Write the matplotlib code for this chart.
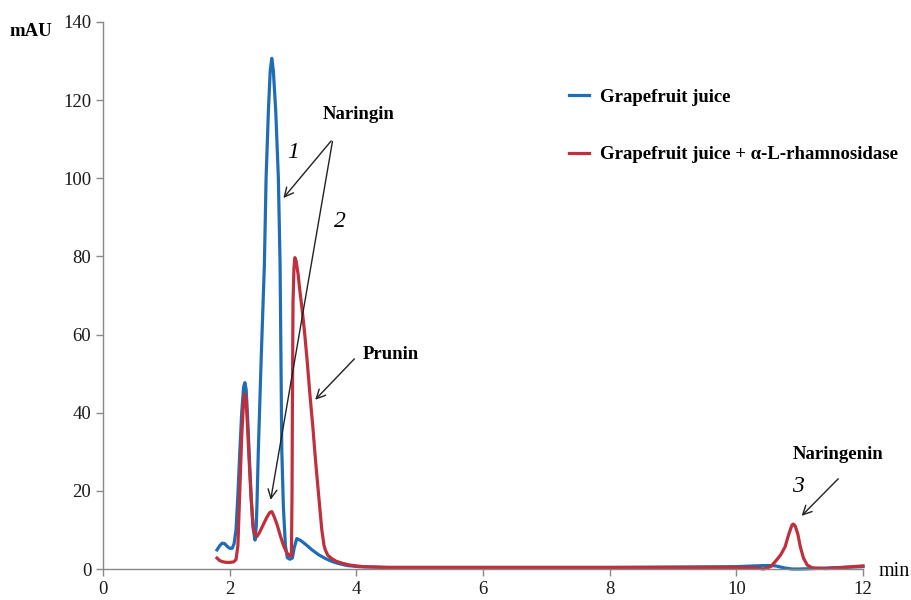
import matplotlib.pyplot as plt

plt.rcParams['font.family'] = ['Liberation Serif', 'DejaVu Serif']

# chromatogram: time (min), signal (mAU)
blue_t = [1.80, 1.84, 1.88, 1.92, 1.96, 2.00, 2.04, 2.07, 2.10, 2.13, 2.16, 2.19,
          2.22, 2.24, 2.26, 2.28, 2.31, 2.34, 2.37, 2.40, 2.42, 2.43, 2.453, 2.50,
          2.548, 2.575, 2.611, 2.64, 2.665, 2.69, 2.728, 2.769, 2.796, 2.823, 2.848,
          2.88, 2.91, 2.95, 2.99, 3.02, 3.06, 3.12, 3.20, 3.30, 3.40, 3.51, 3.62,
          3.72, 3.85, 4.03, 4.5, 5.0, 6.0, 7.0, 8.0, 9.0, 10.0, 10.3, 10.5, 10.62,
          10.75, 10.88, 11.0, 11.2, 11.5, 12.0]
blue_y = [4.9, 5.9, 6.6, 6.5, 5.8, 5.3, 5.3, 6.5, 10, 19, 30, 40,
          46.5, 47.7, 46, 40, 29, 18, 10.5, 7.4, 11, 16, 30.5, 55,
          77.8, 100, 117, 127.5, 130.7, 127.5, 117, 100, 78, 30.5, 16,
          6, 2.9, 2.5, 2.8, 5.5, 7.8, 7.3, 6.3, 4.9, 3.7, 2.7, 1.9,
          1.4, 0.9, 0.6, 0.4, 0.4, 0.4, 0.4, 0.4, 0.5, 0.6, 0.8, 0.9, 0.8,
          0.3, 0.0, 0.0, 0.1, 0.3, 0.6]

red_t = [1.80, 1.84, 1.88, 1.94, 2.00, 2.06, 2.10, 2.13, 2.16, 2.19, 2.22, 2.24,
         2.26, 2.28, 2.31, 2.34, 2.37, 2.40, 2.43, 2.47, 2.52, 2.58, 2.63, 2.665,
         2.70, 2.75, 2.80, 2.85, 2.90, 2.95, 2.975, 2.985, 2.99, 3.00, 3.015, 3.03,
         3.05, 3.08, 3.11, 3.14, 3.18, 3.22, 3.27, 3.31, 3.36, 3.41, 3.455, 3.49, 3.51,
         3.55, 3.61, 3.68, 3.77, 3.9, 4.1, 4.5, 5.0, 6.0, 7.0, 8.0, 9.0, 10.0,
         10.3, 10.43, 10.54, 10.62, 10.70, 10.77, 10.83, 10.88, 10.90, 10.93,
         10.97, 11.01, 11.06, 11.12, 11.2, 11.4, 11.6, 12.0]
red_y = [2.8, 2.2, 1.9, 1.7, 1.7, 1.8, 2.4, 6, 20, 34, 43, 44.8,
         43, 37, 27, 18, 11, 8.8, 8.3, 9.3, 11, 13, 14.4, 14.7,
         13.5, 11.3, 8.5, 6, 4.2, 3.4, 3.3, 20, 40, 68, 77, 79.7,
         78.8, 75.5, 71, 67, 61, 54, 44.1, 37, 27, 18, 10, 6, 4.9,
         3.5, 2.7, 2.0, 1.5, 1.0, 0.6, 0.4, 0.4, 0.4, 0.4, 0.4, 0.4, 0.4,
         0.3, 0.0, 0.6, 2.0, 3.6, 5.7, 9.0, 11.3, 11.5, 11.0,
         9.0, 5.7, 2.8, 1.0, 0.3, 0.1, 0.3, 0.8]

labels = ['Grapefruit juice', 'Grapefruit juice + \u03b1-L-rhamnosidase']
x_ticks = [0, 2, 4, 6, 8, 10, 12]
y_ticks = [0, 20, 40, 60, 80, 100, 120, 140]

blue = '#1f6db4'
red = '#c0303c'

fig = plt.figure(figsize=(9.12, 6.0), dpi=100)
ax = fig.add_axes([103 / 912, 1 - 569 / 600, 760 / 912, 547 / 600])

ax.plot(blue_t, blue_y, color=blue, lw=2.3, label=labels[0], clip_on=False,
        solid_joinstyle='round')
ax.plot(red_t, red_y, color=red, lw=2.3, label=labels[1], clip_on=False,
        solid_joinstyle='round')

ax.set_xlim(0, 12)
ax.set_ylim(0, 140)
ax.set_xticks(x_ticks)
ax.set_yticks(y_ticks)
ax.tick_params(labelsize=13.5, colors='#1a1a1a', length=5, width=1, color='#888888')
ax.spines['top'].set_visible(False)
ax.spines['right'].set_visible(False)
for s in ['left', 'bottom']:
    ax.spines[s].set_color('#888888')
    ax.spines[s].set_linewidth(1)

# axis labels sit outside the plot like in the original
fig.text(31 / 912, 1 - 31 / 600, 'mAU', fontsize=13.5, fontweight='bold',
         ha='center', va='center')
fig.text(894 / 912, 1 - 571 / 600, 'min', fontsize=14.5, ha='center', va='center')

leg = ax.legend(loc='upper left', bbox_to_anchor=(552 / 912, 1 - 72 / 600),
                bbox_transform=fig.transFigure, frameon=False, handlelength=1.1,
                handletextpad=0.55, labelspacing=2.15,
                prop={'size': 13.5, 'weight': 'bold'})

# peak annotations
arrow = dict(arrowstyle='->', lw=1.0, color='#222222', mutation_scale=16)
ax.text(4.04, 116.2, 'Naringin', fontsize=13.5, fontweight='bold', ha='center', va='center')
ax.annotate('', xy=(2.82, 94.4), xytext=(3.63, 110.1), arrowprops=arrow)
ax.annotate('', xy=(2.64, 17.0), xytext=(3.63, 110.1), arrowprops=arrow)
ax.text(3.0, 106.5, '1', fontsize=17, style='italic', ha='center', va='center')
ax.text(3.74, 88.9, '2', fontsize=17, style='italic', ha='center', va='center')

ax.text(4.55, 54.8, 'Prunin', fontsize=13.5, fontweight='bold', ha='center', va='center')
ax.annotate('', xy=(3.32, 42.8), xytext=(4.0, 54.3), arrowprops=arrow)

ax.text(11.61, 29.2, 'Naringenin', fontsize=13.5, fontweight='bold', ha='center', va='center')
ax.text(10.97, 21.0, '3', fontsize=17, style='italic', ha='center', va='center')
ax.annotate('', xy=(11.0, 13.1), xytext=(11.64, 23.6), arrowprops=arrow)

plt.savefig('out.png', dpi=100)
